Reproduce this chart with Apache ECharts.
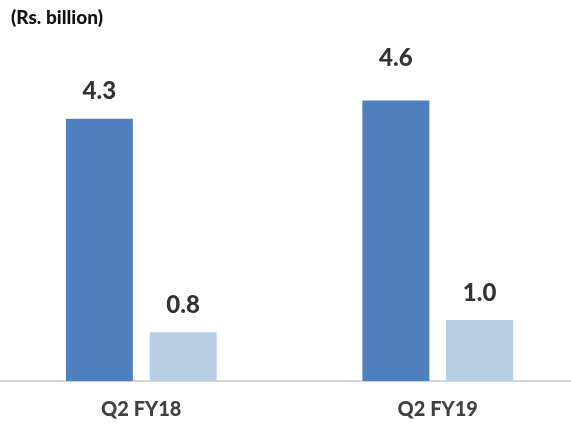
<!DOCTYPE html>
<html>
<head>
<meta charset="utf-8">
<script src="https://cdn.jsdelivr.net/npm/echarts@6/dist/echarts.min.js"></script>
<style>
  html, body { margin: 0; padding: 0; background: #fff; }
  #chart { width: 571px; height: 433px; }
</style>
</head>
<body>
<div id="chart"></div>
<script>
// Quarterly figures, Rs. billion
const categories = ['Q2 FY18', 'Q2 FY19'];
const seriesA = [4.3, 4.6];
const seriesB = [0.8, 1.0];
const unitLabel = '(Rs. billion)';

const textFont = 'Lato, "Open Sans", sans-serif';

const chart = echarts.init(document.getElementById('chart'), null, { renderer: 'canvas' });

const barLabel = {
  show: true,
  position: 'top',
  distance: 15,
  color: '#333333',
  fontFamily: textFont,
  fontWeight: 900,
  fontSize: 24,
  formatter: p => p.value.toFixed(1)
};

// the FY19 headline value sits a little higher above its bar
const seriesAData = seriesA.map((v, i) =>
  i === 1 ? { value: v, label: { distance: 30 } } : v
);

chart.setOption({
  animation: false,
  backgroundColor: '#ffffff',
  title: {
    text: unitLabel,
    left: 6,
    top: 3,
    textStyle: {
      color: '#111',
      fontFamily: textFont,
      fontWeight: 900,
      fontSize: 19
    }
  },
  grid: {
    left: -7, right: -15, top: 76, bottom: 52,
    containLabel: false,
    outerBoundsMode: 'none'
  },
  xAxis: {
    type: 'category',
    data: categories,
    axisLine: { lineStyle: { color: '#d4d4d4', width: 2 } },
    axisTick: { show: false },
    axisLabel: {
      color: '#404040',
      fontFamily: textFont,
      fontWeight: 900,
      fontSize: 20,
      margin: 19
    }
  },
  yAxis: {
    type: 'value',
    min: 0,
    max: 5,
    show: false,
    splitLine: { show: false }
  },
  series: [
    {
      type: 'bar',
      data: seriesAData,
      barWidth: 67,
      barGap: '25%',
      itemStyle: { color: '#4F7FBE' },
      label: barLabel
    },
    {
      type: 'bar',
      data: seriesB,
      barWidth: 67,
      itemStyle: { color: '#B8CCE4' },
      label: barLabel
    }
  ]
});
</script>
</body>
</html>
